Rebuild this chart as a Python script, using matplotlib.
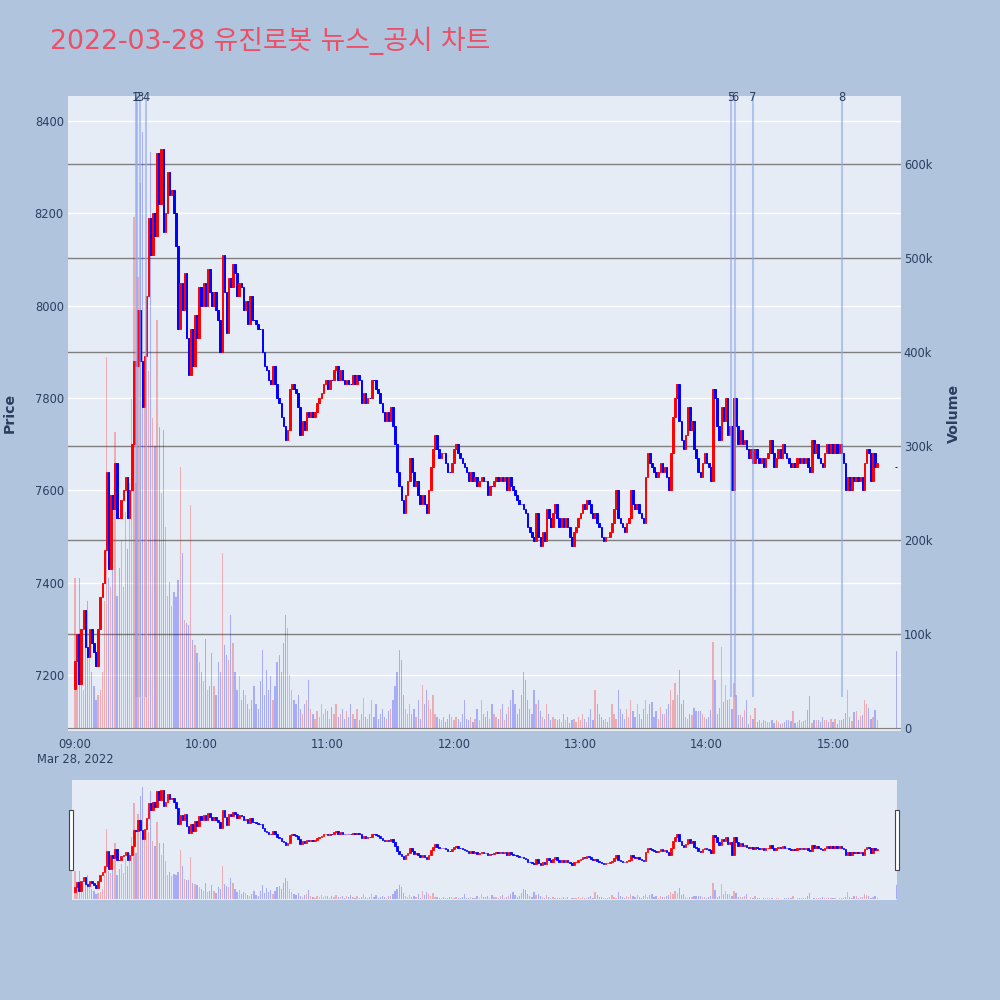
import numpy as np
import matplotlib.pyplot as plt
from matplotlib.patches import Rectangle

# 1-minute closes, 09:00 .. 09:21 and the 15:30 closing print
closes = [
    7230, 7290, 7180, 7300, 7340, 7260, 7240, 7300, 7270, 7250,
    7220, 7300, 7370, 7400, 7470, 7640, 7430, 7590, 7560, 7660,
    7540, 7540, 7580, 7600, 7630, 7540, 7600, 7700, 7880, 7870,
    7990, 7880, 7780, 7890, 8020, 8190, 8110, 8200, 8150, 8330,
    8220, 8340, 8160, 8200, 8290, 8240, 8250, 8200, 8130, 7950,
    8050, 7990, 8070, 7930, 7850, 7950, 7870, 7980, 7930, 8040,
    8000, 8050, 8000, 8080, 8030, 8000, 8030, 7990, 7970, 7900,
    8110, 8030, 7940, 8060, 8040, 8090, 8070, 8020, 8050, 8040,
    7990, 8010, 7960, 8020, 7970, 7970, 7960, 7950, 7950, 7900,
    7870, 7860, 7840, 7830, 7870, 7830, 7800, 7790, 7760, 7740,
    7710, 7730, 7820, 7830, 7820, 7810, 7780, 7720, 7750, 7730,
    7770, 7760, 7770, 7760, 7770, 7790, 7800, 7810, 7830, 7840,
    7820, 7840, 7840, 7860, 7870, 7840, 7860, 7840, 7830, 7840,
    7830, 7830, 7850, 7830, 7850, 7840, 7790, 7810, 7790, 7800,
    7800, 7840, 7840, 7820, 7810, 7790, 7770, 7750, 7770, 7750,
    7780, 7740, 7700, 7640, 7610, 7580, 7550, 7590, 7620, 7670,
    7640, 7610, 7620, 7590, 7570, 7590, 7570, 7550, 7600, 7650,
    7690, 7720, 7690, 7670, 7680, 7680, 7660, 7640, 7640, 7660,
    7690, 7700, 7680, 7670, 7660, 7650, 7640, 7620, 7640, 7620,
    7630, 7610, 7620, 7630, 7620, 7620, 7590, 7610, 7610, 7620,
    7630, 7620, 7630, 7620, 7630, 7600, 7630, 7610, 7600, 7590,
    7580, 7570, 7570, 7560, 7550, 7520, 7510, 7500, 7490, 7550,
    7500, 7480, 7510, 7490, 7560, 7540, 7520, 7550, 7570, 7540,
    7520, 7540, 7520, 7540, 7520, 7500, 7480, 7510, 7520, 7540,
    7550, 7570, 7560, 7580, 7570, 7550, 7540, 7550, 7530, 7520,
    7500, 7490, 7500, 7500, 7510, 7530, 7560, 7600, 7540, 7530,
    7520, 7510, 7530, 7540, 7600, 7570, 7560, 7570, 7550, 7540,
    7530, 7630, 7680, 7660, 7650, 7640, 7630, 7640, 7660, 7640,
    7650, 7630, 7600, 7680, 7760, 7800, 7830, 7750, 7710, 7690,
    7720, 7780, 7730, 7750, 7690, 7670, 7640, 7630, 7660, 7680,
    7660, 7650, 7620, 7820, 7800, 7740, 7710, 7780, 7750, 7800,
    7720, 7740, 7600, 7800, 7740, 7700, 7730, 7700, 7710, 7690,
    7670, 7690, 7660, 7690, 7670, 7660, 7670, 7650, 7670, 7680,
    7710, 7680, 7650, 7670, 7690, 7670, 7700, 7680, 7670, 7660,
    7650, 7660, 7650, 7670, 7660, 7670, 7660, 7670, 7650, 7640,
    7710, 7680, 7700, 7670, 7660, 7650, 7680, 7700, 7680, 7700,
    7680, 7700, 7680, 7700, 7680, 7660, 7600, 7630, 7600, 7630,
    7620, 7630, 7620, 7630, 7600, 7660, 7690, 7680, 7620, 7680,
    7650, 7660,
    7650,
]
first_open = 7170

# volume in thousands
volumes_k = [
    160, 95, 160, 70, 40, 120, 135, 95, 60, 45,
    30, 35, 40, 60, 135, 395, 160, 150, 180, 315,
    140, 170, 200, 150, 230, 190, 260, 350, 543, 260,
    480, 580, 634, 350, 420, 380, 612, 330, 300, 434,
    320, 250, 317, 214, 140, 155, 130, 145, 139, 157,
    278, 186, 115, 112, 110, 237, 94, 88, 80, 70,
    60, 50, 95, 40, 45, 80, 45, 35, 70, 60,
    186, 88, 78, 72, 120, 90, 60, 40, 55, 30,
    40, 35, 25, 20, 30, 45, 25, 20, 50, 83,
    35, 62, 40, 55, 30, 45, 70, 78, 60, 90,
    120, 106, 56, 40, 30, 25, 35, 20, 15, 25,
    30, 51, 20, 15, 10, 18, 12, 25, 15, 20,
    18, 10, 22, 15, 25, 12, 15, 20, 10, 18,
    12, 25, 15, 10, 20, 8, 15, 32, 12, 10,
    15, 30, 12, 25, 10, 15, 20, 12, 10, 18,
    20, 30, 45, 60, 83, 72, 35, 20, 15, 25,
    15, 20, 12, 30, 10, 46, 25, 40, 30, 20,
    35, 15, 12, 10, 8, 12, 6, 10, 15, 12,
    8, 12, 10, 6, 15, 30, 10, 8, 12, 6,
    10, 20, 8, 30, 15, 12, 18, 10, 25, 15,
    12, 10, 20, 25, 8, 15, 22, 30, 40, 25,
    15, 20, 35, 60, 51, 30, 20, 15, 40, 25,
    30, 18, 12, 10, 25, 15, 8, 12, 10, 8,
    10, 6, 15, 8, 12, 5, 8, 10, 6, 12,
    8, 15, 10, 6, 12, 20, 8, 40, 25, 15,
    12, 8, 10, 6, 12, 25, 15, 10, 40, 20,
    15, 10, 20, 12, 30, 18, 12, 25, 15, 10,
    20, 30, 15, 25, 28, 12, 18, 10, 22, 15,
    15, 20, 25, 40, 30, 48, 35, 62, 25, 30,
    12, 10, 15, 14, 21, 18, 18, 18, 15, 12,
    10, 12, 19, 91, 51, 15, 21, 86, 28, 46,
    30, 31, 20, 48, 35, 14, 14, 12, 19, 30,
    4, 14, 10, 21, 6, 8, 5, 9, 7, 6,
    6, 8, 5, 9, 6, 4, 5, 6, 8, 8,
    7, 18, 5, 6, 8, 6, 7, 8, 19, 34,
    5, 8, 8, 8, 6, 12, 8, 8, 6, 10,
    6, 10, 4, 8, 9, 10, 16, 40, 12, 7,
    17, 18, 9, 13, 14, 30, 25, 21, 10, 12,
    19, 8,
    82,
]

# minutes after 09:00 (regular session bars, then the closing auction)
minutes = list(range(382)) + [390]

news_labels = ['1', '2', '3', '4', '5', '6', '7', '8']
news_times = ['09:28:48', '09:29:30', '09:31:00', '09:33:36',
              '14:11:24', '14:13:36', '14:22:00', '15:04:24']

price_ticks = [7200, 7400, 7600, 7800, 8000, 8200, 8400]
vol_ticks = [0, 100, 200, 300, 400, 500, 600]
time_ticks = [0, 60, 120, 180, 240, 300, 360]
time_labels = ['09:00\nMar 28, 2022', '10:00', '11:00', '12:00',
               '13:00', '14:00', '15:00']

title = '2022-03-28 유진로봇 뉴스_공시 차트'

# ------------------------------------------------------------------
t = np.array(minutes, dtype=float)
c = np.array(closes, dtype=float)
o = np.array([first_open] + closes[:-1], dtype=float)
o[-1] = c[-1]
v = np.array(volumes_k, dtype=float)
up = c > o
cols = np.where(up, '#ff0000', '#0000ff')

def to_min(s):
    h, m, sec = [int(x) for x in s.split(':')]
    return (h - 9) * 60 + m + sec / 60.0

news_x = [to_min(s) for s in news_times]

BG = '#E5ECF6'
PAGE = '#B0C4DE'
TXT = '#2a3f5f'
P_LIM = (7079, 8454)
V_LIM = (-3.2, 672)

fig = plt.figure(figsize=(10, 10), dpi=100)
fig.patch.set_facecolor(PAGE)

main_rect = [0.068, 0.269, 0.833, 0.635]
xlim_main = (-3.3, 392.3)


def candles(ax, w, lw):
    ax.bar(t, np.abs(c - o), w, np.minimum(o, c), color=cols,
           edgecolor=cols, linewidth=lw, zorder=3)


def vol_bars(ax):
    ax.bar(t, v, 0.6, color=cols, alpha=0.27, linewidth=0, zorder=2)


# background layer: price grid + ticks
ax_bg = fig.add_axes(main_rect)
ax_bg.set_facecolor(BG)
ax_bg.set_xlim(*xlim_main)
ax_bg.set_ylim(*P_LIM)
ax_bg.set_yticks(price_ticks)
ax_bg.set_yticklabels([str(p) for p in price_ticks])
ax_bg.set_xticks(time_ticks)
ax_bg.set_xticklabels(time_labels, linespacing=1.25)
ax_bg.grid(axis='y', color='white', linewidth=1)
ax_bg.tick_params(length=0, labelsize=8.3, labelcolor=TXT)
ax_bg.tick_params(axis='y', pad=3)
ax_bg.tick_params(axis='x', pad=5)
for s in ax_bg.spines.values():
    s.set_visible(False)
ax_bg.set_axisbelow(True)

# volume layer
ax_v = fig.add_axes(main_rect)
ax_v.patch.set_alpha(0)
ax_v.set_xlim(*xlim_main)
ax_v.set_ylim(*V_LIM)
ax_v.set_yticks(vol_ticks)
ax_v.set_yticklabels(['0'] + [f'{k}k' for k in vol_ticks[1:]])
ax_v.yaxis.tick_right()
ax_v.set_xticks([])
ax_v.grid(axis='y', color='#808080', linewidth=1)
ax_v.axhline(0, color='white', linewidth=2, zorder=1)
ax_v.tick_params(length=0, labelsize=8.3, labelcolor=TXT, pad=2)
for s in ax_v.spines.values():
    s.set_visible(False)
vol_bars(ax_v)

# candle layer
ax_c = fig.add_axes(main_rect)
ax_c.patch.set_alpha(0)
ax_c.set_xlim(*xlim_main)
ax_c.set_ylim(*P_LIM)
ax_c.axis('off')
candles(ax_c, 0.75, 0.7)
ax_c.vlines(news_x, 7152, P_LIM[1], color='#8fa6ef', alpha=0.6,
            linewidth=1.5, zorder=4)
for lab, x in zip(news_labels, news_x):
    ax_c.text(x, P_LIM[1] - 3, lab, ha='center', va='center',
              fontsize=8.3, color=TXT, zorder=5, clip_on=False)

# range slider
sl_rect = [0.072, 0.100, 0.825, 0.120]
xlim_sl = (-1.4, 390.4)
ax_sv = fig.add_axes(sl_rect)
ax_sv.set_facecolor(BG)
ax_sv.set_xlim(*xlim_sl)
ax_sv.set_ylim(*V_LIM)
ax_sv.axis('off')
ax_sv.add_patch(Rectangle((0, 0), 1, 1, transform=ax_sv.transAxes,
                          facecolor=BG, edgecolor='none', zorder=0))
vol_bars(ax_sv)
ax_sc = fig.add_axes(sl_rect)
ax_sc.patch.set_alpha(0)
ax_sc.set_xlim(*xlim_sl)
ax_sc.set_ylim(*P_LIM)
ax_sc.axis('off')
candles(ax_sc, 0.75, 0.6)

for hx in (0.069, 0.895):
    fig.patches.append(Rectangle((hx, 0.130), 0.004, 0.060,
                                 transform=fig.transFigure,
                                 facecolor='white', edgecolor='#444444',
                                 linewidth=0.8))

# texts
fig.text(0.050, 0.959, title, ha='left', va='center', fontsize=19.3,
         color='#EC4F66', family=['DejaVu Sans', 'Noto Sans CJK KR'])
fig.text(0.010, 0.587, 'Price', rotation=90, ha='center', va='center',
         fontsize=10.2, fontweight='bold', color=TXT)
fig.text(0.954, 0.587, 'Volume', rotation=90, ha='center', va='center',
         fontsize=10.2, fontweight='bold', color=TXT)

fig.savefig('out.png', dpi=100, facecolor=PAGE)
